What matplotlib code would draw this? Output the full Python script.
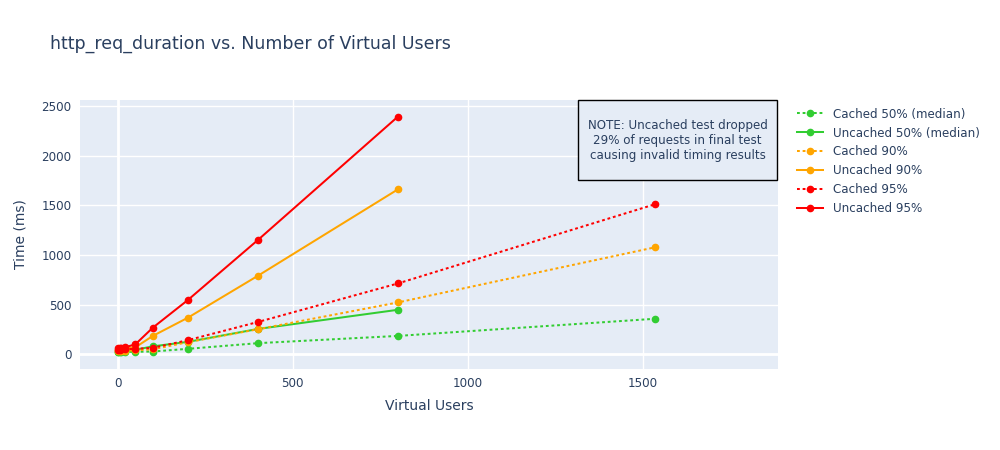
import matplotlib
matplotlib.use("Agg")
import matplotlib.pyplot as plt
from matplotlib.patches import Rectangle

# --- Data --------------------------------------------------------------------
USERS_UNCACHED = [1, 5, 10, 20, 50, 100, 200, 400, 800]
USERS_CACHED = [1, 5, 10, 20, 50, 100, 200, 400, 800, 1536]

CACHED_50 = [20, 22, 22, 24, 25, 28, 55, 112, 185, 358]
UNCACHED_50 = [28, 30, 32, 35, 45, 80, 125, 255, 448]
CACHED_90 = [30, 32, 34, 36, 40, 50, 122, 252, 522, 1078]
UNCACHED_90 = [45, 48, 50, 55, 70, 185, 368, 790, 1660]
CACHED_95 = [45, 48, 50, 52, 55, 65, 142, 325, 713, 1512]
UNCACHED_95 = [62, 65, 66, 70, 100, 268, 546, 1150, 2392]

DOT = (0, (1.4, 1.4))
SERIES = [
    ("Cached 50% (median)", USERS_CACHED, CACHED_50, "#32CD32", DOT),
    ("Uncached 50% (median)", USERS_UNCACHED, UNCACHED_50, "#32CD32", "-"),
    ("Cached 90%", USERS_CACHED, CACHED_90, "#FFA500", DOT),
    ("Uncached 90%", USERS_UNCACHED, UNCACHED_90, "#FFA500", "-"),
    ("Cached 95%", USERS_CACHED, CACHED_95, "#FF0000", DOT),
    ("Uncached 95%", USERS_UNCACHED, UNCACHED_95, "#FF0000", "-"),
]

NOTE = ("NOTE: Uncached test dropped\n29% of requests in final test\n"
        "causing invalid timing results")

TEXT = "#2a3f5f"
BG = "#E5ECF6"


def main():
    plt.rcParams["font.family"] = ["DejaVu Sans"]
    fig = plt.figure(figsize=(10, 4.5), dpi=100)
    ax = fig.add_axes([0.08, 0.18, 0.698, 0.598])
    ax.set_facecolor(BG)

    for label, xs, ys, color, ls in SERIES:
        ax.plot(xs, ys, linestyle=ls, color=color, linewidth=1.45,
                marker="o", markersize=4.5, label=label, zorder=3,
                dash_capstyle="butt")

    ax.set_xlim(-108, 1886)
    ax.set_ylim(-148, 2561)
    ax.set_xticks([0, 500, 1000, 1500])
    ax.set_yticks([0, 500, 1000, 1500, 2000, 2500])
    ax.grid(True, color="white", linewidth=1)
    ax.set_axisbelow(True)
    ax.axhline(0, color="white", linewidth=2, zorder=1)
    ax.axvline(0, color="white", linewidth=2, zorder=1)
    for s in ax.spines.values():
        s.set_visible(False)
    ax.tick_params(length=0, colors=TEXT, labelsize=8.6, pad=6)

    ax.set_xlabel("Virtual Users", color=TEXT, fontsize=10, labelpad=6)
    ax.set_ylabel("Time (ms)", color=TEXT, fontsize=10, labelpad=10)
    fig.text(0.05, 0.902, "http_req_duration vs. Number of Virtual Users",
             color=TEXT, fontsize=12.55, va="center")

    # note box in the top-right corner of the plot
    fig.patches.append(Rectangle((0.578, 0.6), 0.199, 0.178,
                                 transform=fig.transFigure, facecolor=BG,
                                 edgecolor="black", linewidth=1, zorder=5))
    fig.text(0.6775, 0.6867, NOTE, color=TEXT, fontsize=8.6, ha="center",
             va="center", linespacing=1.2, zorder=6)

    fig.legend(loc="upper left", bbox_to_anchor=(0.797, 0.761),
               frameon=False, fontsize=8.6, labelcolor=TEXT,
               handlelength=2.17, handletextpad=0.84, labelspacing=0.5,
               borderaxespad=0, borderpad=0)

    fig.savefig("out.png", dpi=100, facecolor="white")


if __name__ == "__main__":
    main()
